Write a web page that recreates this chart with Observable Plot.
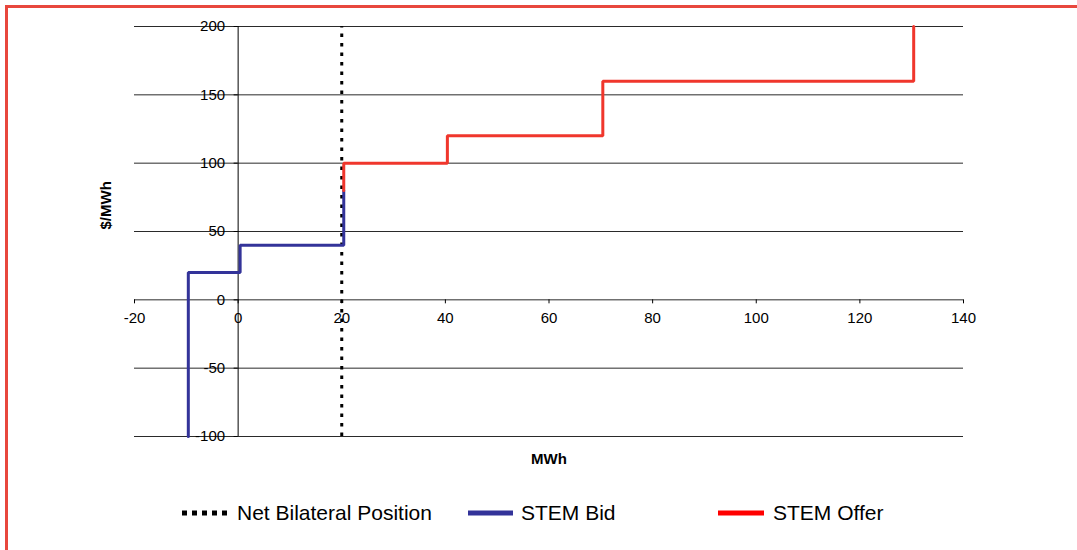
<!DOCTYPE html>
<html>
<head>
<meta charset="utf-8">
<script src="https://cdn.jsdelivr.net/npm/d3@7"></script>
<script src="https://cdn.jsdelivr.net/npm/@observablehq/plot@0.6"></script>
<style>
  html, body { margin: 0; padding: 0; background: #fff; }
  body { position: relative; width: 1077px; height: 550px; overflow: hidden; font-family: "Liberation Sans", Arial, sans-serif; }
  #frame { position: absolute; left: 5px; top: 5px; width: 1200px; height: 700px; border-left: 3px solid #e8473d; border-top: 3px solid #e8473d; pointer-events: none; }
  #chart { position: absolute; left: 0; top: 0; }
  .leg { position: absolute; top: 500px; height: 26px; display: flex; align-items: center; font-size: 21px; color: #000; white-space: nowrap; }
  .leg svg { margin-right: 5px; }
</style>
</head>
<body>
<div id="chart"></div>
<div id="legend"></div>
<div id="frame"></div>
<script>
// ---- data ----
const xTicks = [-20, 0, 20, 40, 60, 80, 100, 120, 140];
const yTicks = [-100, -50, 0, 50, 100, 150, 200];
const bilateralMWh = 20;
const bidMWh   = [-10, -10, 0, 0, 20, 20];
const bidPrice = [-100, 20, 20, 40, 40, 80];
const offerMWh   = [20, 20, 40, 40, 70, 70, 130, 130];
const offerPrice = [80, 100, 100, 120, 120, 160, 160, 200];
const seriesNames = ["Net Bilateral Position", "STEM Bid", "STEM Offer"];
const seriesColors = ["#000000", "#333399", "#ff0000"];

const bid = bidMWh.map((x, i) => ({x, y: bidPrice[i]}));
const offer = offerMWh.map((x, i) => ({x, y: offerPrice[i]}));

const W = 1077, H = 485;
const mL = 134, mR = 114, mT = 26, mB = 49;
const xDom = [-20, 140], yDom = [-100, 200];
const plotW = W - mL - mR, plotH = H - mT - mB;
const xShift = plotW * (0 - xDom[0]) / (xDom[1] - xDom[0]);
const yShift = -plotH * (0 - yDom[0]) / (yDom[1] - yDom[0]);

const chart = Plot.plot({
  width: W, height: H,
  marginLeft: mL, marginRight: mR, marginTop: mT, marginBottom: mB,
  style: {fontFamily: "'Liberation Sans', Arial, sans-serif", fontSize: "15px", color: "#000", background: "transparent"},
  x: {domain: xDom},
  y: {domain: yDom},
  marks: [
    Plot.ruleY(yTicks, {stroke: "#2a2a2a", strokeWidth: 1}),
    Plot.ruleX([0], {y1: yDom[0], y2: yDom[1], stroke: "#000", strokeWidth: 1}),
    Plot.axisX(xTicks, {anchor: "bottom", dy: yShift, tickSize: 4, tickPadding: 9, tickFormat: d => String(d), label: null, stroke: "#000", fontSize: 15}),
    Plot.axisY(yTicks, {anchor: "left", dx: xShift, tickSize: 4, tickPadding: 9, tickFormat: d => String(d), label: null, stroke: "#000", fontSize: 15}),
    Plot.ruleX([bilateralMWh], {y1: yDom[0], y2: yDom[1], stroke: seriesColors[0], strokeWidth: 3, strokeDasharray: "3.5,6"}),
    Plot.line(bid, {x: "x", y: "y", dx: 2, stroke: seriesColors[1], strokeWidth: 3, strokeLinejoin: "miter"}),
    Plot.line(offer, {x: "x", y: "y", dx: 2, stroke: "#f0362c", strokeWidth: 3, strokeLinejoin: "miter"}),
    Plot.text(["MWh"], {frameAnchor: "bottom", dy: 27, text: d => d, fontWeight: "bold", fontSize: 15}),
    Plot.text(["$/MWh"], {frameAnchor: "left", dx: -28, dy: -2, rotate: -90, text: d => d, fontWeight: "bold", fontSize: 15})
  ]
});
document.getElementById("chart").appendChild(chart);

// ---- legend ----
const legend = document.getElementById("legend");
const legPos = [182, 468, 718];
const legW = [50, 45, 46];
const legGap = [5, 8, 9];
seriesNames.forEach((name, i) => {
  const div = document.createElement("div");
  div.className = "leg";
  div.style.left = legPos[i] + "px";
  const dash = i === 0 ? 'stroke-dasharray="5,5"' : "";
  div.innerHTML = `<svg width="${legW[i]}" height="10" style="margin-right:${legGap[i]}px"><line x1="0" x2="${legW[i]}" y1="5" y2="5" stroke="${seriesColors[i]}" stroke-width="5" ${dash}/></svg><span>${name}</span>`;
  legend.appendChild(div);
});
</script>
</body>
</html>
